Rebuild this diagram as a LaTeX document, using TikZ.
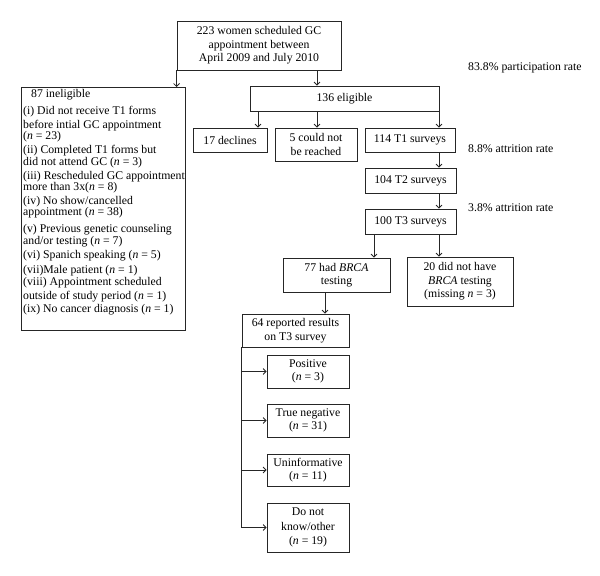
\documentclass[tikz,border=0pt]{standalone}
\usepackage{fontspec}
\setmainfont{Liberation Serif}
\usetikzlibrary{arrows.meta}
\begin{document}
\begin{tikzpicture}[x=1bp,y=-1bp,
 box/.style={draw=black!85, line width=0.8bp, inner sep=0pt, align=center, font=\fontsize{11.8}{13.5}\selectfont},
 conn/.style={draw=black!85, line width=0.8bp, -{Straight Barb[length=3bp,width=6bp]}},
 plain/.style={draw=black!85, line width=0.8bp},
 lbl/.style={anchor=west, inner sep=0pt, font=\fontsize{11.8}{13}\selectfont},
 iline/.style={anchor=west, inner sep=0pt, font=\fontsize{11.8}{13}\selectfont, text height=8bp, text depth=2.5bp}]
\path[use as bounding box] (0,0) rectangle (600,576);
% boxes
\node[box, minimum width=164bp, minimum height=49bp] (top) at (259,45.5) {223 women scheduled GC\\appointment between\\April 2009 and July 2010};
\node[box, minimum width=164bp, minimum height=243bp, anchor=north west] (inel) at (21,87) {};
\node[box, minimum width=189bp, minimum height=25bp] (elig) at (344.5,98.5) {136 eligible};
\node[box, minimum width=74bp, minimum height=24bp] (dec) at (230,140) {17 declines};
\node[box, minimum width=82bp, minimum height=33bp] (reach) at (316,144.5) {5 could not\\be reached};
\node[box, minimum width=90bp, minimum height=24bp] (t1) at (410,140) {114 T1 surveys};
\node[box, minimum width=91bp, minimum height=25bp] (t2) at (410.5,180.5) {104 T2 surveys};
\node[box, minimum width=91bp, minimum height=25bp] (t3) at (410.5,221.5) {100 T3 surveys};
\node[box, minimum width=107bp, minimum height=34bp] (brca) at (336.5,275) {77 had \textit{BRCA}\\testing};
\node[box, minimum width=106bp, minimum height=49bp] (nobrca) at (460,281.5) {20 did not have\\\textit{BRCA} testing\\(missing \textit{n} = 3)};
\node[box, minimum width=107bp, minimum height=33bp] (rep) at (295.5,330.5) {64 reported results\\on T3 survey};
\node[box, minimum width=82bp, minimum height=33bp] (pos) at (308,371.5) {Positive\\(\textit{n} = 3)};
\node[box, minimum width=82bp, minimum height=33bp] (neg) at (308,420.5) {True negative\\(\textit{n} = 31)};
\node[box, minimum width=82bp, minimum height=32bp] (uninf) at (308,470) {Uninformative\\(\textit{n} = 11)};
\node[box, minimum width=82bp, minimum height=49bp, font=\fontsize{11.8}{14.5}\selectfont] (dnk) at (308,527.5) {Do not\\know/other\\(\textit{n} = 19)};
% side labels
\node[lbl] (part) at (468,68) {83.8\% participation rate};
\node[lbl] (att1) at (468,149) {8.8\% attrition rate};
\node[lbl] (att2) at (468,208) {3.8\% attrition rate};
% ineligible list
\node[iline] (in0) at (31,95) {87 ineligible};
\foreach \yy/\tt [count=\i] in {
 112/{(i) Did not receive T1 forms},
 126/{before intial GC appointment},
 137/{(\textit{n} = 23)},
 151/{(ii) Completed T1 forms but},
 163/{did not attend GC (\textit{n} = 3)},
 177/{(iii) Rescheduled GC appointment},
 188/{more than 3x(\textit{n} = 8)},
 202/{(iv) No show/cancelled},
 213/{appointment (\textit{n} = 38)},
 230/{(v) Previous genetic counseling},
 242/{and/or testing (\textit{n} = 7)},
 256/{(vi) Spanich speaking (\textit{n} = 5)},
 271/{(vii)Male patient (\textit{n} = 1)},
 283/{(viii) Appointment scheduled},
 297/{outside of study period (\textit{n} = 1)},
 310/{(ix) No cancer diagnosis (\textit{n} = 1)}}
 {\node[iline] (in\i) at (23,\yy) {\tt};}
% column coordinates
\coordinate (cA) at (317,0);
\coordinate (cB) at (258,0);
\coordinate (cC) at (439,0);
\coordinate (cD) at (374,0);
\coordinate (cE) at (325,0);
% connectors
\draw[conn] (top.south west) -- (top.south west |- inel.north);
\draw[conn] (cA |- top.south) -- (cA |- elig.north);
\draw[conn] (cB |- elig.south) -- (cB |- dec.north);
\draw[conn] (cA |- elig.south) -- (cA |- reach.north);
\draw[conn] (cC |- elig.south) -- (cC |- t1.north);
\draw[conn] (cC |- t1.south) -- (cC |- t2.north);
\draw[conn] (cC |- t2.south) -- (cC |- t3.north);
\draw[conn] (cD |- t3.south) -- (cD |- brca.north);
\draw[conn] (cC |- t3.south) -- (cC |- nobrca.north);
\draw[conn] (cE |- brca.south) -- (cE |- rep.north);
\draw[plain] (rep.south west) -- (rep.south west |- dnk.west);
\draw[conn] (rep.south west |- pos.west) -- (pos.west);
\draw[conn] (rep.south west |- neg.west) -- (neg.west);
\draw[conn] (rep.south west |- uninf.west) -- (uninf.west);
\draw[conn] (rep.south west |- dnk.west) -- (dnk.west);
\end{tikzpicture}
\end{document}
